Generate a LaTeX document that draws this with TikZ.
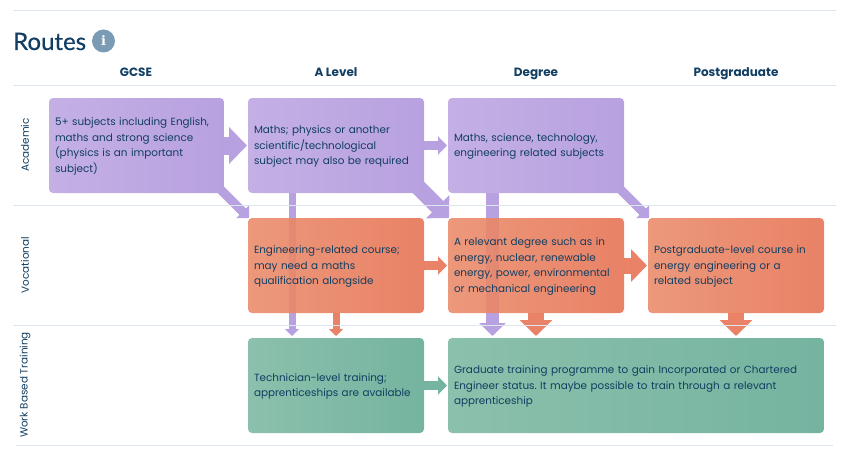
\documentclass[tikz,border=0pt]{standalone}
\usepackage{fontspec}
\setmainfont{Poppins}
\newfontfamily\titlefont{Lato}[RawFeature={embolden=0.5}]
\newfontfamily\iconfont{DejaVu Serif}
\usetikzlibrary{arrows.meta,positioning,backgrounds}
\definecolor{rtink}{RGB}{17,62,98}
\definecolor{rtrule}{RGB}{221,230,239}
\definecolor{rticon}{RGB}{122,155,179}
\definecolor{rtpurple}{RGB}{184,161,224}
\definecolor{rtpurplelt}{RGB}{196,176,229}
\definecolor{rtorange}{RGB}{233,130,102}
\definecolor{rtgreen}{RGB}{117,180,160}
\definecolor{rtgreenlt}{RGB}{139,192,172}
% orange fills, a little stronger as these boxes are see-through
\definecolor{boxorange}{RGB}{231,116,85}
\definecolor{boxorangelt}{RGB}{234,141,109}

\begin{document}
\begin{tikzpicture}[
    x=1pt,y=-1pt,
    font=\fontsize{10.4}{15.6}\selectfont,
    text=rtink,
    node distance=24pt,
    routebox/.style={rounded corners=4pt,align=left,text width=164pt,inner xsep=6pt,minimum height=95pt,inner ysep=0pt,outer sep=0pt,execute at end node={\endgraf\vspace{-2pt}}},
    academic/.style={routebox,left color=rtpurplelt,middle color=rtpurple,right color=rtpurple},
    vocational/.style={routebox,fill opacity=0.9,text opacity=1,left color=boxorangelt,middle color=boxorange,right color=boxorange},
    workbased/.style={routebox,left color=rtgreenlt,middle color=rtgreen,right color=rtgreen},
    heading/.style={anchor=base,font=\fontsize{12}{14}\selectfont\bfseries},
    rowlabel/.style={rotate=90,font=\fontsize{10.4}{13}\selectfont},
    rule/.style={draw=rtrule,line width=0.8pt},
    flow/.style={line width=#1,-{Triangle[length=#1,width'=0pt 2]}},
    flowpurple/.style={flow=#1,draw=rtpurple,shorten <=-10pt},
    floworange/.style={flow=#1,draw=rtorange},
    flowgreen/.style={flow=#1,draw=rtgreen}
  ]
    \useasboundingbox (0,0) rectangle (849,460);
    \draw[rule] (13,10.5) -- (836,10.5);
    \draw[rule] (13,85.5) -- (836,85.5);
    \draw[rule] (13,205.5) -- (836,205.5);
    \draw[rule] (13,325.5) -- (836,325.5);
    \draw[rule] (16,445.5) -- (833,445.5);

    \node[anchor=base west,inner sep=0pt,font=\titlefont\fontsize{24}{28}\selectfont] (title) at (13,50) {Routes};
    \node[circle,fill=rticon,minimum size=23pt,inner sep=0pt,text=white,font=\iconfont\bfseries\fontsize{13}{13}\selectfont] (info) at (103.5,41) {i};

    \node[heading] (hgcse) at (136,77) {GCSE};
    \node[heading] (hlevel) at (336,77) {A Level};
    \node[heading] (hdegree) at (536,77) {Degree};
    \node[heading] (hpost) at (736,77) {Postgraduate};

    \node[rowlabel] (racademic) at (25,145) {Academic};
    \node[rowlabel] (rvocational) at (25,265) {Vocational};
    \node[rowlabel] (rwork) at (25,385) {Work Based Training};

    \node[academic,text width=163pt] (gcse) at (136.5,145.5) {5+ subjects including English,\\maths and strong science\\(physics is an important\\subject)};
    \node[academic] (level) at (336,145.5) {Maths; physics or another\\scientific/technological\\subject may also be required};
    \node[academic,right=of level] (degree) {Maths, science, technology,\\engineering related subjects};
    \node[vocational,below=25pt of level] (vlevel) {Engineering-related course;\\may need a maths\\qualification alongside};
    \node[vocational,right=of vlevel] (vdegree) {A relevant degree such as in\\energy, nuclear, renewable\\energy, power, environmental\\or mechanical engineering};
    \node[vocational,right=of vdegree] (vpost) {Postgraduate-level course in\\energy engineering or a\\related subject};
    \node[workbased,below=25pt of vlevel] (wlevel) {Technician-level training;\\apprenticeships are available};
    \node[workbased,text width=364pt,anchor=north west] (wgrad) at (vdegree.south west |- wlevel.north) {Graduate training programme to gain Incorporated or Chartered\\Engineer status.\ It maybe possible to train through a relevant\\apprenticeship};

    \begin{scope}[on background layer]
      \draw[flowpurple=18pt,shorten >=1pt] (gcse) -- (level);
      \draw[flowpurple=9pt,shorten >=1pt] (level) -- (degree);
      \draw[flowpurple=9pt] (gcse.south east) -- ([xshift=1pt]vlevel.north west);
      \draw[flowpurple=16pt] (level.south east) -- ([xshift=1pt]vdegree.north west);
      \draw[flowpurple=9pt] (degree.south east) -- ([xshift=1pt]vpost.north west);
      \draw[flowpurple=7pt,shorten >=2pt] ([xshift=-44pt]level.south) -- ([xshift=-44pt]wlevel.north);
      \draw[flowpurple=13pt,shorten >=2pt] ([xshift=-43.5pt]degree.south) -- ([xshift=-43.5pt]degree.south |- wgrad.north);
      \draw[floworange=9pt,shorten >=1pt] (vlevel) -- (vdegree);
      \draw[floworange=16pt,shorten >=1pt] (vdegree) -- (vpost);
      \draw[floworange=7pt,shorten >=2pt] (vlevel) -- (wlevel);
      \draw[floworange=16pt,shorten >=2pt] (vdegree.south) -- (vdegree.south |- wgrad.north);
      \draw[floworange=16pt,shorten >=2pt] (vpost.south) -- (vpost.south |- wgrad.north);
      \draw[flowgreen=9pt,shorten >=1pt] (wlevel) -- (wgrad);
    \end{scope}
  \end{tikzpicture}
\end{document}
